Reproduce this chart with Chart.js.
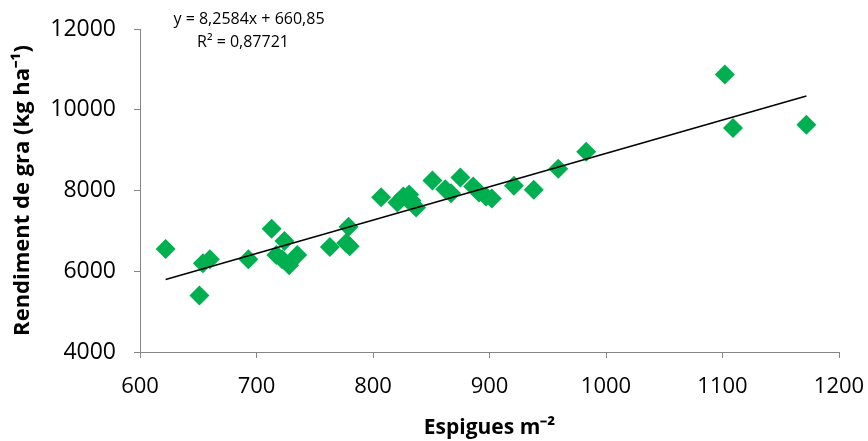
<!DOCTYPE html>
<html>
<head>
<meta charset="utf-8">
<script src="https://cdn.jsdelivr.net/npm/chart.js@4/dist/chart.umd.min.js"></script>
<style>
  html, body { margin: 0; padding: 0; background: #fff; }
  #wrap { width: 868px; height: 441px; }
</style>
</head>
<body>
<div id="wrap"><canvas id="grafic" width="868" height="441"></canvas></div>
<script>
// Espigues per m2 (eix x) i rendiment de gra (eix y)
const espigues = [622, 651, 654, 660, 693, 713, 724, 717, 722, 728, 735, 763, 777, 780, 779,
                  807, 821, 826, 829, 831, 833, 837, 851, 862, 867, 875, 886, 891, 897, 902,
                  921, 938, 959, 983, 1102, 1109, 1172];
const rendiment = [6550, 5400, 6200, 6300, 6300, 7050, 6750, 6400, 6300, 6150, 6400, 6600, 6700, 6620, 7100,
                   7830, 7700, 7850, 7800, 7900, 7750, 7580, 8250, 8030, 7930, 8320, 8100, 7950, 7850, 7800,
                   8120, 8020, 8540, 8960, 10870, 9550, 9630];

// Línia de tendència: y = 8,2584x + 660,85
const pendent = 8.2584;
const ordenada = 660.85;
const equacio = ['y = 8,2584x + 660,85', 'R² = 0,87721'];

const punts = espigues.map((x, i) => ({ x: x, y: rendiment[i] }));
const xMin = Math.min(...espigues), xMax = Math.max(...espigues);
const tendencia = [xMin, xMax].map(x => ({ x: x, y: pendent * x + ordenada }));

const fontBase = "'Open Sans', sans-serif";
const gris = '#868686';

// Text de l'equació sobre el gràfic
const textEquacio = {
    id: 'textEquacio',
    afterDraw(chart) {
        const ctx = chart.ctx;
        ctx.save();
        ctx.fillStyle = '#000';
        ctx.font = '16px ' + fontBase;
        ctx.textAlign = 'center';
        ctx.textBaseline = 'middle';
        ctx.fillText(equacio[0], 249, 19);
        ctx.fillText(equacio[1], 243, 42);
        ctx.restore();
    }
};

new Chart(document.getElementById('grafic').getContext('2d'), {
    type: 'scatter',
    data: {
        datasets: [{
            label: 'Rendiment',
            data: punts,
            pointStyle: 'rectRot',
            pointRadius: 10,
            pointHoverRadius: 10,
            backgroundColor: '#00B050',
            borderColor: '#00B050',
            borderWidth: 0,
            order: 1
        }, {
            type: 'line',
            label: 'Tendència',
            data: tendencia,
            borderColor: '#000',
            borderWidth: 1.5,
            pointRadius: 0,
            fill: false,
            order: 0
        }]
    },
    options: {
        responsive: false,
        animation: false,
        layout: { padding: { top: 29, right: 29, left: 0, bottom: 0 } },
        plugins: { legend: { display: false }, tooltip: { enabled: false } },
        scales: {
            x: {
                type: 'linear',
                min: 600,
                max: 1200,
                ticks: {
                    stepSize: 100, color: '#000', padding: 16,
                    font: { size: 22, family: fontBase },
                    callback: v => String(v)
                },
                grid: { drawOnChartArea: false, drawTicks: true, tickLength: 6, color: gris },
                border: { color: gris, width: 1 },
                title: {
                    display: true,
                    text: 'Espigues m⁻²',
                    color: '#000',
                    font: { size: 21, weight: 'bold', family: fontBase },
                    padding: { top: 0, bottom: 0 }
                },
                afterFit(scale) {
                    scale.height = 89;
                    scale.paddingLeft = 0;
                    scale.paddingRight = 0;
                }
            },
            y: {
                min: 4000,
                max: 12000,
                ticks: {
                    stepSize: 2000, color: '#000', padding: 18,
                    font: { size: 23, family: fontBase },
                    callback: v => String(v)
                },
                grid: { drawOnChartArea: false, drawTicks: true, tickLength: 6, color: gris },
                border: { color: gris, width: 1 },
                title: {
                    display: true,
                    text: 'Rendiment de gra (kg ha⁻¹)',
                    color: '#000',
                    font: { size: 22, weight: 'bold', family: fontBase },
                    padding: { top: 10, bottom: 0 }
                },
                afterFit(scale) {
                    scale.width = 140;
                    scale.paddingTop = 0;
                    scale.paddingBottom = 0;
                }
            }
        }
    },
    plugins: [textEquacio]
});
</script>
</body>
</html>
